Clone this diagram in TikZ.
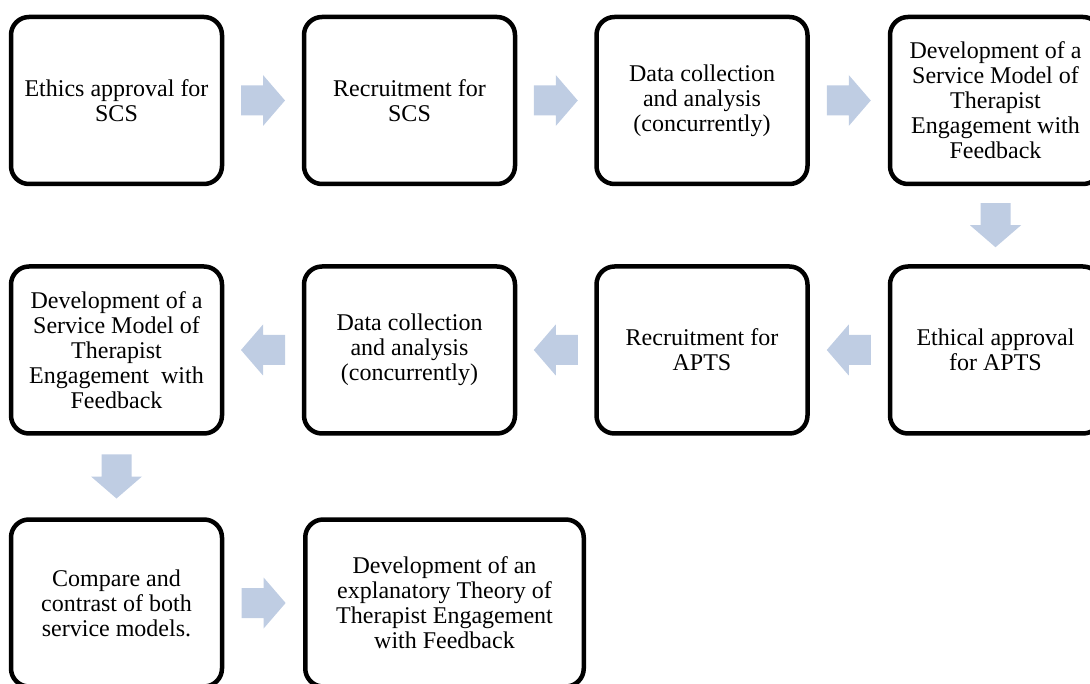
\documentclass[tikz,border=0pt]{standalone}
\usepackage{fontspec}
\setmainfont{Liberation Serif}
\usetikzlibrary{calc}
\definecolor{arrowblue}{RGB}{191,205,227}
\begin{document}
\begin{tikzpicture}[x=1pt,y=-1pt,
  stage/.style={draw=black, line width=4.5pt, rounded corners=18pt, fill=white,
    minimum width=211pt, minimum height=167pt, align=center, inner sep=0pt,
    font=\fontsize{24}{25}\selectfont},
  widestage/.style={stage, minimum width=278.5pt},
  blockarrow/.pic={\fill[arrowblue] (-22,-15) -- (0,-15) -- (0,-25.5) -- (22,0)
    -- (0,25.5) -- (0,15) -- (-22,15) -- cycle;}]
\useasboundingbox (0,0) rectangle (1090,684);

% first row: SCS study
\node[stage] (s1) at (116.5,100.5) {Ethics approval for\\SCS};
\node[stage] (s2) at (409.5,100.5) {Recruitment for\\SCS};
\node[stage] (s3) at (702,100.5) {Data collection\\and analysis\\(concurrently)};
\node[stage] (s4) at (995.5,100.5) {Development of a\\Service Model of\\Therapist\\Engagement with\\Feedback};

% second row: APTS study, read right to left
\node[stage] (a1) at (995.5,350) {Ethical approval\\for APTS};
\node[stage] (a2) at (702,350) {Recruitment for\\APTS};
\node[stage] (a3) at (409.5,350) {Data collection\\and analysis\\(concurrently)};
\node[stage] (a4) at (116.5,350) {Development of a\\Service Model of\\Therapist\\Engagement~ with\\Feedback};

% third row: synthesis
\node[stage] (c1) at (116.5,603) {Compare and\\contrast of both\\service models.};
\node[widestage] (c2) at (444.5,603) {Development of an\\explanatory Theory of\\Therapist Engagement\\with Feedback};

% block arrows between stages
\pic at ($(s1.east)!0.5!(s2.west)$) {blockarrow};
\pic at ($(s2.east)!0.5!(s3.west)$) {blockarrow};
\pic at ($(s3.east)!0.5!(s4.west)$) {blockarrow};
\pic[rotate=-90] at ($(s4.south)!0.5!(a1.north)$) {blockarrow};
\pic[rotate=180] at ($(a1.west)!0.5!(a2.east)$) {blockarrow};
\pic[rotate=180] at ($(a2.west)!0.5!(a3.east)$) {blockarrow};
\pic[rotate=180] at ($(a3.west)!0.5!(a4.east)$) {blockarrow};
\pic[rotate=-90] at ($(a4.south)!0.5!(c1.north)$) {blockarrow};
\pic at ($(c1.east)!0.5!(c2.west)$) {blockarrow};
\end{tikzpicture}
\end{document}
